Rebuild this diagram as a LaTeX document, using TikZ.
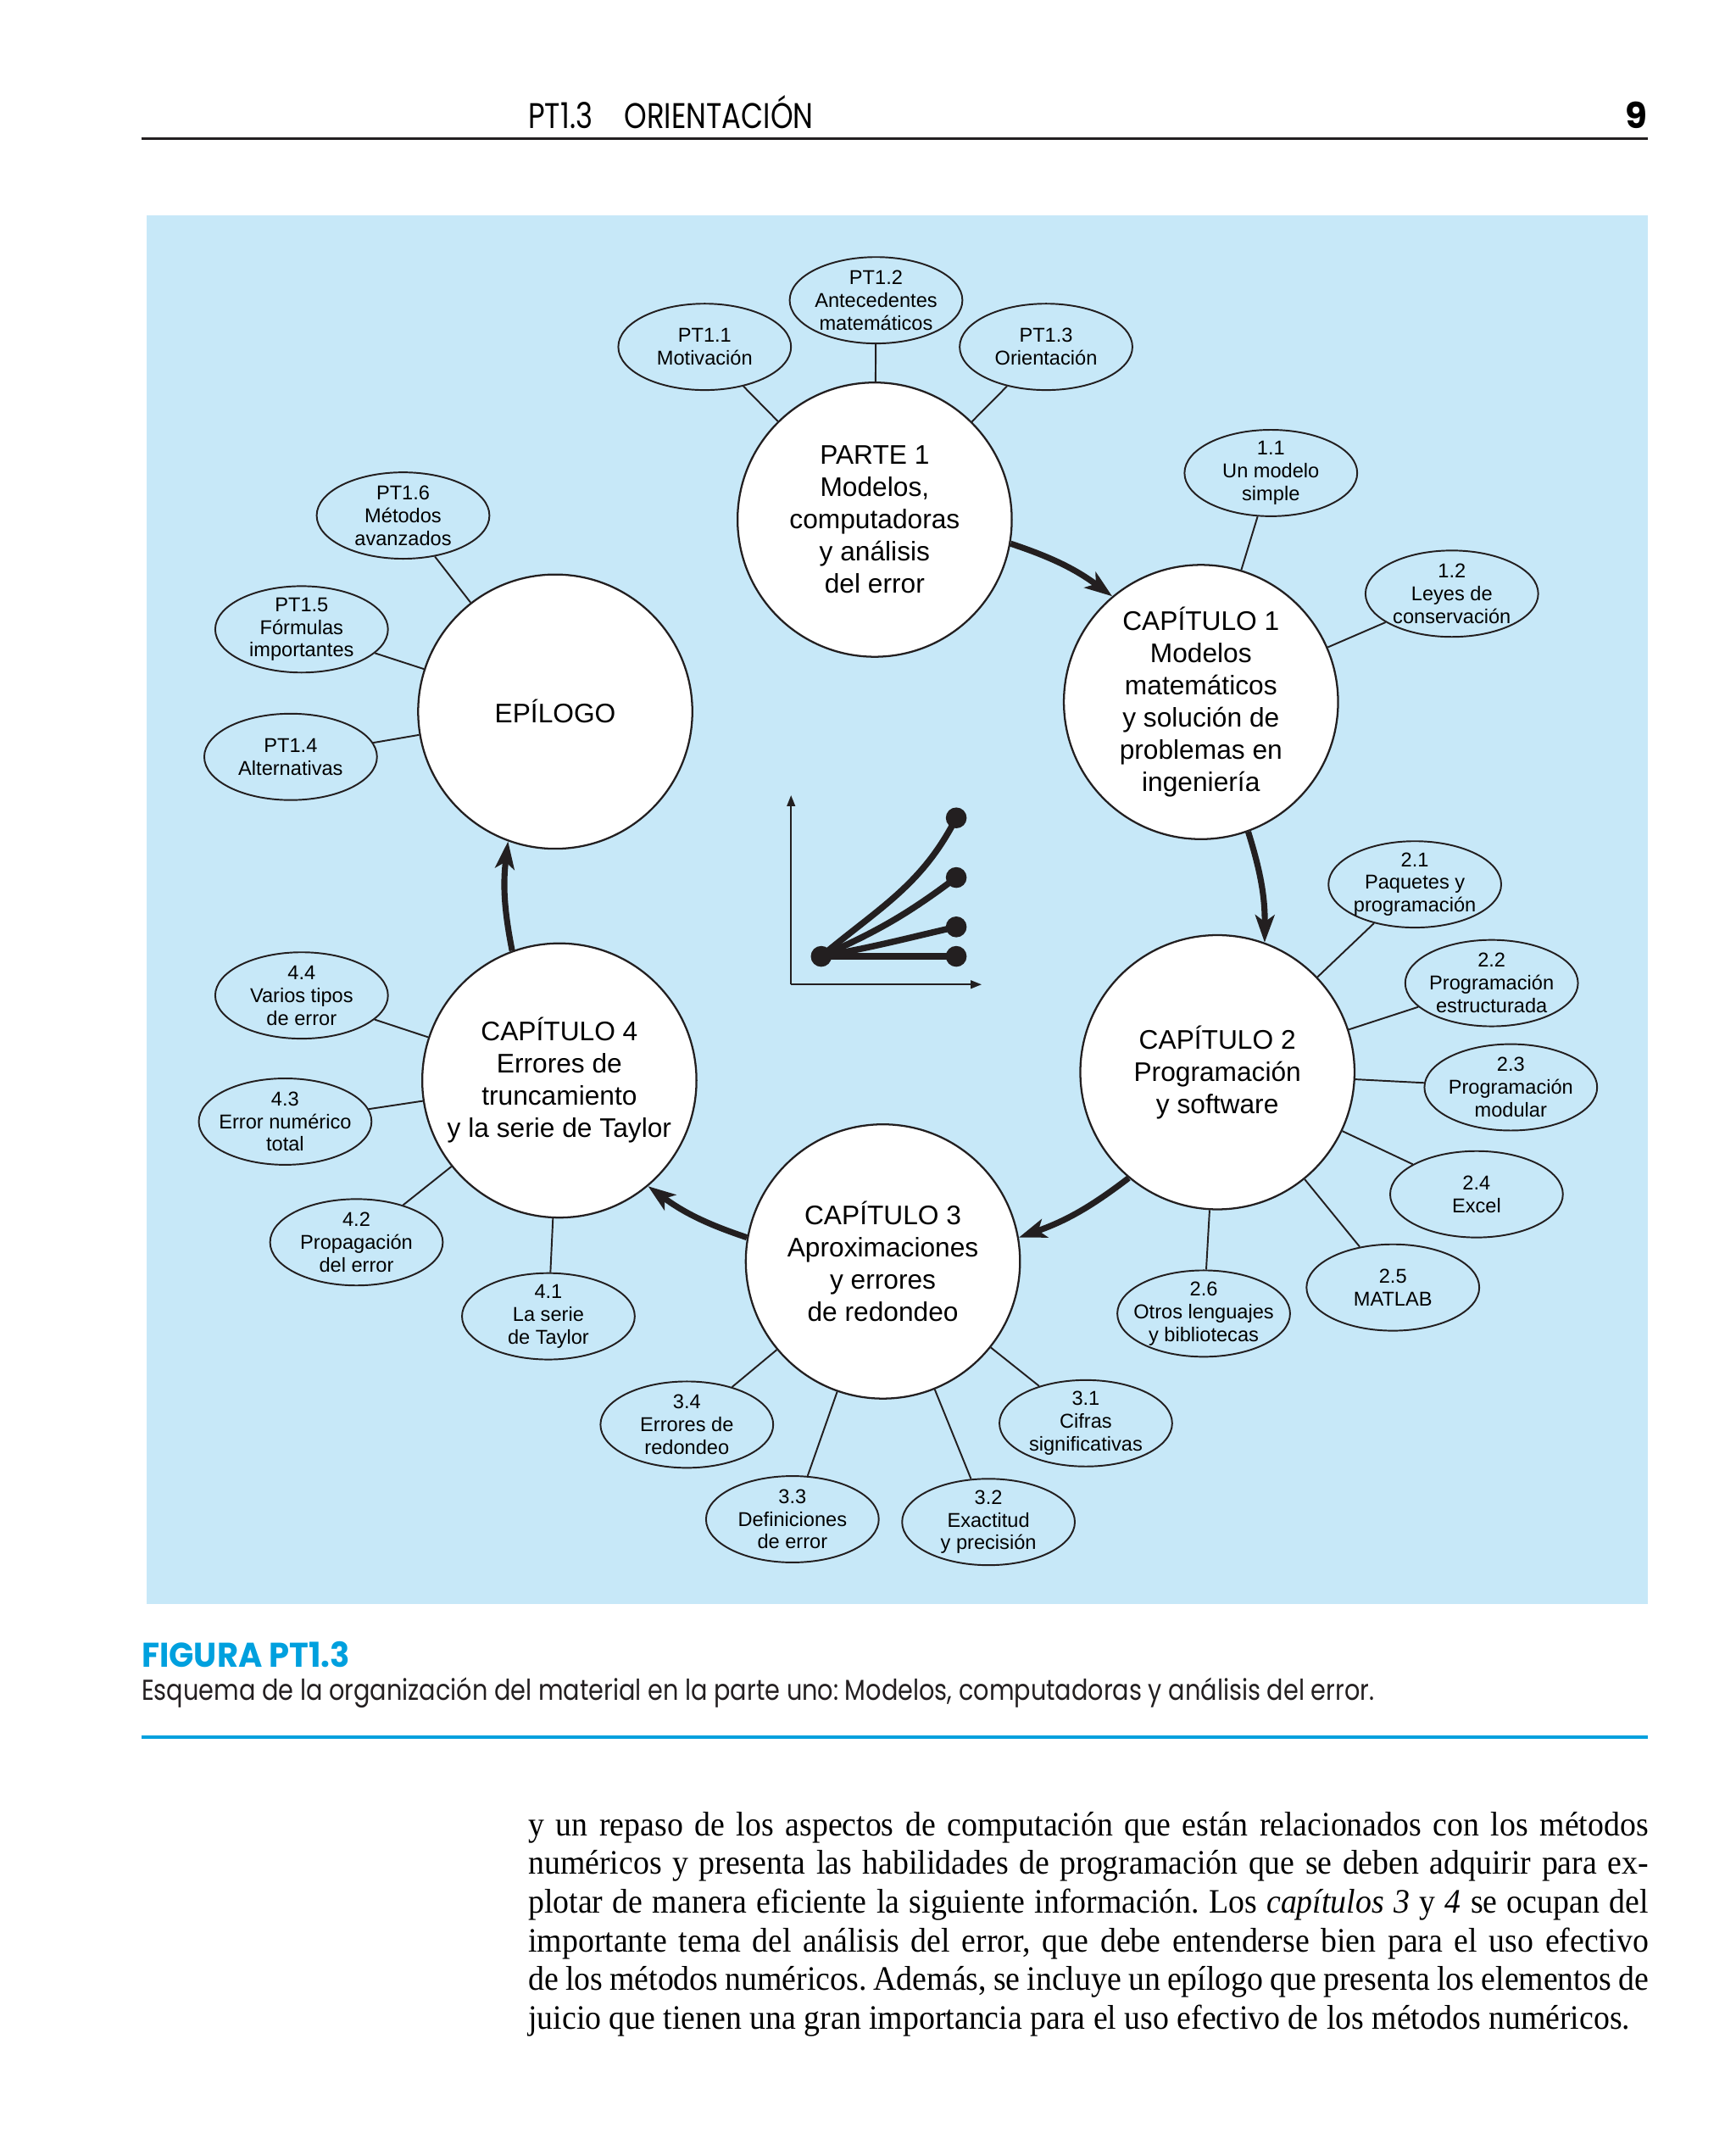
\documentclass[tikz,border=0pt]{standalone}
\usepackage{fontspec}
\usepackage{graphicx}
\setmainfont[FakeStretch=0.935]{Liberation Serif}
\newfontfamily\diagfont{Liberation Sans}
\newfontfamily\pagefont{Poppins}
\definecolor{bgblue}{RGB}{199,232,248}
\definecolor{ink}{RGB}{35,31,32}
\definecolor{figcyan}{RGB}{0,160,222}
\usetikzlibrary{
    arrows.meta,
    shapes.geometric
}
\frenchspacing

\begin{document}
\begin{tikzpicture}[
    x=5pt, y=5pt,
    chapter/.style={
        circle,
        draw=ink,
        line width=0.7pt,
        fill=white,
        minimum size=100pt,
        inner sep=0pt,
        align=center,
        font=\diagfont\fontsize{9.8}{11.75}\selectfont
    },
    topic/.style={
        ellipse,
        draw=ink,
        line width=0.6pt,
        minimum width=63pt,
        minimum height=31.5pt,
        inner xsep=-5pt,
        inner ysep=-3pt,
        align=center,
        font=\diagfont\fontsize{7.3}{8.3}\selectfont
    },
    flow/.style={
        -{Stealth[length=10pt,width=7pt,inset=2.5pt]},
        line width=2.2pt,
        draw=ink
    },
    link/.style={
        line width=0.6pt,
        draw=ink
    },
    growth/.style={
        line width=2.3pt,
        draw=ink,
        line cap=round
    },
    axis/.style={
        -{Triangle[length=4pt,width=3pt]},
        line width=0.6pt,
        draw=ink
    },
    bodytext/.style={
        anchor=north west,
        text width=408.5pt,
        align=justify,
        inner sep=0pt,
        text=black,
        font=\fontsize{12.5}{14.1}\selectfont
    }
]
\useasboundingbox (0,0) rectangle (126.6,156.8);

% =========================================================
% Page head
% =========================================================
\node[anchor=base west, inner sep=0pt, font=\pagefont\fontsize{13}{14}\selectfont] (headtitle) at (38.5,147.4)
{\resizebox{104pt}{\height}{PT1.3\hspace{1.1em}ORIENTACIÓN}};
\node[anchor=base east, inner sep=0pt, font=\pagefont\bfseries\fontsize{13}{14}\selectfont] (pagenum) at (120.2,147.4) {9};
\draw[line width=1pt, ink] (10.3,146.7) -- (120.2,146.7);

% =========================================================
% Figure panel
% =========================================================
\fill[bgblue] (10.7,39.8) rectangle (120.2,141.1);

% small graph in the middle
\coordinate (origin) at (57.7,85.0);
\coordinate (ytop) at (57.7,98.8);
\coordinate (xend) at (71.6,85.0);
\coordinate (start) at (59.9,87.05);
\coordinate (end1) at (69.75,97.15);
\coordinate (end2) at (69.75,92.8);
\coordinate (end3) at (69.75,89.2);
\coordinate (end4) at (69.75,87.05);

\draw[axis] (origin) -- (ytop);
\draw[axis] (origin) -- (xend);
\draw[growth] (start) to[out=40,in=-117] (end1);
\draw[growth] (start) to[out=24,in=-143] (end2);
\draw[growth] (start) to[out=10,in=-167] (end3);
\draw[growth] (start) -- (end4);
\foreach \p in {start,end1,end2,end3,end4}
    \fill[ink] (\p) circle[radius=3.8pt];

% =========================================================
% Part, chapters and epilogue
% =========================================================
\node[chapter] (parte) at (63.8,118.9)
{PARTE 1\\Modelos,\\computadoras\\y análisis\\del error};

\node[chapter] (cap1) at (87.6,105.6)
{CAPÍTULO 1\\Modelos\\matemáticos\\y solución de\\problemas en\\ingeniería};

\node[chapter] (cap2) at (88.8,78.6)
{CAPÍTULO 2\\Programación\\y software};

\node[chapter] (cap3) at (64.4,64.8)
{CAPÍTULO 3\\Aproximaciones\\y errores\\de redondeo};

\node[chapter] (cap4) at (40.8,78.0)
{CAPÍTULO 4\\Errores de\\truncamiento\\y la serie de Taylor};

\node[chapter] (epilogo) at (40.5,104.9)
{EPÍLOGO};

% =========================================================
% Sections
% =========================================================
\node[topic] (pt11) at (51.4,131.5) {PT1.1\\Motivación};
\node[topic] (pt12) at (63.9,134.9) {PT1.2\\Antecedentes\\matemáticos};
\node[topic] (pt13) at (76.3,131.5) {PT1.3\\Orientación};

\node[topic] (t11) at (92.7,122.3) {1.1\\Un modelo\\simple};
\node[topic] (t12) at (105.9,113.5) {1.2\\Leyes de\\conservación};

\node[topic] (t21) at (103.2,92.3) {2.1\\Paquetes y\\programación};
\node[topic] (t22) at (108.8,85.1) {2.2\\Programación\\estructurada};
\node[topic] (t23) at (110.2,77.5) {2.3\\Programación\\modular};
\node[topic] (t24) at (107.7,69.7) {2.4\\Excel};
\node[topic] (t25) at (101.6,62.9) {2.5\\MATLAB};
\node[topic] (t26) at (87.8,61.0) {2.6\\Otros lenguajes\\y bibliotecas};

\node[topic] (t31) at (79.2,53.0) {3.1\\Cifras\\significativas};
\node[topic] (t32) at (72.1,45.8) {3.2\\Exactitud\\y precisión};
\node[topic] (t33) at (57.8,46.0) {3.3\\Definiciones\\de error};
\node[topic] (t34) at (50.1,52.9) {3.4\\Errores de\\redondeo};

\node[topic] (t41) at (40.0,60.8) {4.1\\La serie\\de Taylor};
\node[topic] (t42) at (26.0,66.2) {4.2\\Propagación\\del error};
\node[topic] (t43) at (20.8,75.0) {4.3\\Error numérico\\total};
\node[topic] (t44) at (22.0,84.2) {4.4\\Varios tipos\\de error};

\node[topic] (pt14) at (21.2,101.6) {PT1.4\\Alternativas};
\node[topic] (pt15) at (22.0,110.9) {PT1.5\\Fórmulas\\importantes};
\node[topic] (pt16) at (29.4,119.2) {PT1.6\\Métodos\\avanzados};

% =========================================================
% Links to sections
% =========================================================
\foreach \a/\b in {parte/pt11, parte/pt12, parte/pt13,
                   cap1/t11, cap1/t12,
                   cap2/t21, cap2/t22, cap2/t23, cap2/t24, cap2/t25, cap2/t26,
                   cap3/t31, cap3/t32, cap3/t33, cap3/t34,
                   cap4/t41, cap4/t42, cap4/t43, cap4/t44,
                   epilogo/pt14, epilogo/pt15, epilogo/pt16}
    \draw[link] (\a) -- (\b);

% =========================================================
% Reading order
% =========================================================
\draw[flow] (parte.-10) to[bend left=9] (cap1.130);
\draw[flow] (cap1.-70) to[bend left=9] (cap2.70);
\draw[flow] (cap2.-130) to[bend left=9] (cap3.10);
\draw[flow] (cap3.170) to[bend left=9] (cap4.-50);
\draw[flow] (cap4.110) to[bend left=9] (epilogo.-110);

% =========================================================
% Caption and text
% =========================================================
\node[anchor=base west, inner sep=0pt, text=figcyan, font=\pagefont\bfseries\fontsize{12.5}{14}\selectfont] (figlabel) at (10.3,35.2)
{\resizebox{76pt}{\height}{FIGURA PT1.3}};
\node[anchor=base west, inner sep=0pt, text=ink, font=\pagefont\fontsize{10.5}{12}\selectfont] (figcaption) at (10.3,32.8)
{\resizebox{449.5pt}{\height}{Esquema de la organización del material en la parte uno: Modelos, computadoras y análisis del error.}};
\draw[line width=1.2pt, figcyan] (10.3,30.1) -- (120.2,30.1);

\node[bodytext] (body) at (38.5,24.7)
{y un repaso de los aspectos de computación que están relacionados con los métodos\linebreak
numéricos y presenta las habilidades de programación que se deben adquirir para ex-\linebreak
plotar de manera eficiente la siguiente información. Los \textit{capítulos 3} y \textit{4} se ocupan del\linebreak
importante tema del análisis del error, que debe entenderse bien para el uso efectivo\linebreak
de los métodos numéricos. Además, se incluye un epílogo que presenta los elementos de\linebreak
juicio que tienen una gran importancia para el uso efectivo de los métodos numéricos.};

\end{tikzpicture}
\end{document}
